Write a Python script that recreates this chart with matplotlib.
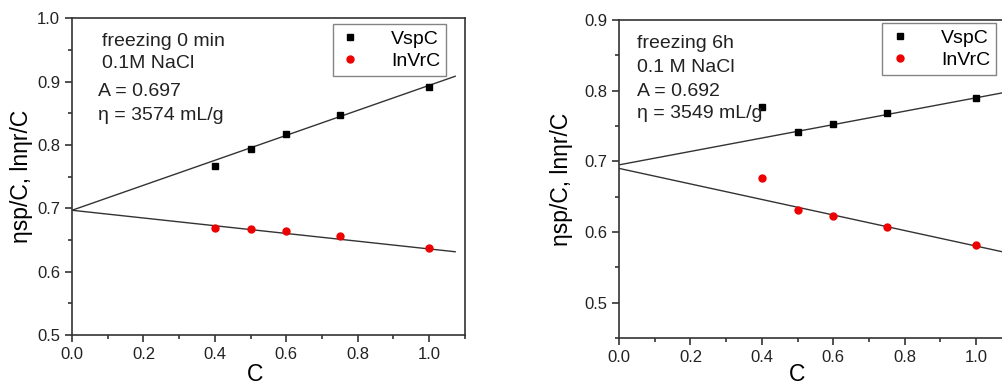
import matplotlib.pyplot as plt
import numpy as np
from matplotlib.ticker import MultipleLocator

plt.rcParams['font.family'] = ['Liberation Sans', 'DejaVu Sans']

conc = [0.4, 0.5, 0.6, 0.75, 1.0]

# freezing 0 min
vsp_0 = [0.767, 0.793, 0.817, 0.848, 0.891]
lnvr_0 = [0.669, 0.668, 0.665, 0.656, 0.637]
a_0 = 0.697
slope_vsp_0 = 0.197
slope_lnvr_0 = -0.061

# freezing 6h
vsp_6 = [0.777, 0.742, 0.753, 0.768, 0.789]
lnvr_6 = [0.677, 0.631, 0.622, 0.607, 0.582]
a_6 = 0.692
int_vsp_6, slope_vsp_6 = 0.695, 0.095
int_lnvr_6, slope_lnvr_6 = 0.690, -0.110

notes_0 = ["freezing 0 min", "0.1M NaCl", "A = 0.697", "\u03b7 = 3574 mL/g"]
notes_6 = ["freezing 6h", "0.1 M NaCl", "A = 0.692", "\u03b7 = 3549 mL/g"]

fig = plt.figure(figsize=(10.02, 3.87), dpi=100)
ax1 = fig.add_axes([0.0719, 0.134, 0.392, 0.819])
ax2 = fig.add_axes([0.6178, 0.127, 0.392, 0.821])


def panel(ax, vsp, lnvr, lines, ylim, xmax, xend, notes, note_pos, leg_anchor):
    xs = np.array([0.0, xend])
    for b, m in lines:
        ax.plot(xs, b + m * xs, color='#333333', lw=1.0, zorder=1)
    ax.plot(conc, vsp, 's', color='black', ms=5, label='VspC', zorder=3)
    ax.plot(conc, lnvr, 'o', color='#ee0000', ms=5, label='InVrC', zorder=3)
    ax.set_xlim(0, xmax)
    ax.set_ylim(*ylim)
    ax.xaxis.set_major_locator(MultipleLocator(0.2))
    ax.xaxis.set_minor_locator(MultipleLocator(0.1))
    ax.yaxis.set_major_locator(MultipleLocator(0.1))
    ax.yaxis.set_minor_locator(MultipleLocator(0.05))
    ax.tick_params(which='both', direction='out', labelsize=12, width=1.2,
                   colors='#333333', labelcolor='#222222')
    ax.tick_params(which='major', length=5)
    ax.tick_params(which='minor', length=3)
    for s in ax.spines.values():
        s.set_linewidth(1.2)
        s.set_color('#333333')
    ax.set_xlabel('C', fontsize=16.5)
    ax.set_ylabel('\u03b7sp/C, ln\u03b7r/C', fontsize=16.5)
    leg = ax.legend(loc='upper right', bbox_to_anchor=leg_anchor, fontsize=14,
                    frameon=True, fancybox=False, handletextpad=1.5,
                    borderaxespad=0.0, borderpad=0.3, labelspacing=0.25,
                    handlelength=1.2, edgecolor='#666666')
    leg.get_frame().set_linewidth(1.0)
    for txt, (x, y) in zip(notes, note_pos):
        ax.text(x, y, txt, transform=ax.transAxes, fontsize=14, va='center',
                color='#222222')


panel(ax1, vsp_0, lnvr_0, [(a_0, slope_vsp_0), (a_0, slope_lnvr_0)],
      (0.5, 1.0), 1.10, 1.073, notes_0,
      [(0.075, 0.926), (0.075, 0.857), (0.066, 0.769), (0.066, 0.693)],
      (0.952, 0.981))
panel(ax2, vsp_6, lnvr_6, [(int_vsp_6, slope_vsp_6), (int_lnvr_6, slope_lnvr_6)],
      (0.45, 0.9), 1.10, 1.10, notes_6,
      [(0.046, 0.927), (0.046, 0.852), (0.046, 0.776), (0.046, 0.707)],
      (0.959, 0.99))
ax1.yaxis.set_label_coords(-0.099, 0.5)
ax2.yaxis.set_label_coords(-0.117, 0.5)
ax1.xaxis.set_label_coords(0.466, -0.088)
ax2.xaxis.set_label_coords(0.453, -0.078)

fig.savefig('out.png', dpi=100)
